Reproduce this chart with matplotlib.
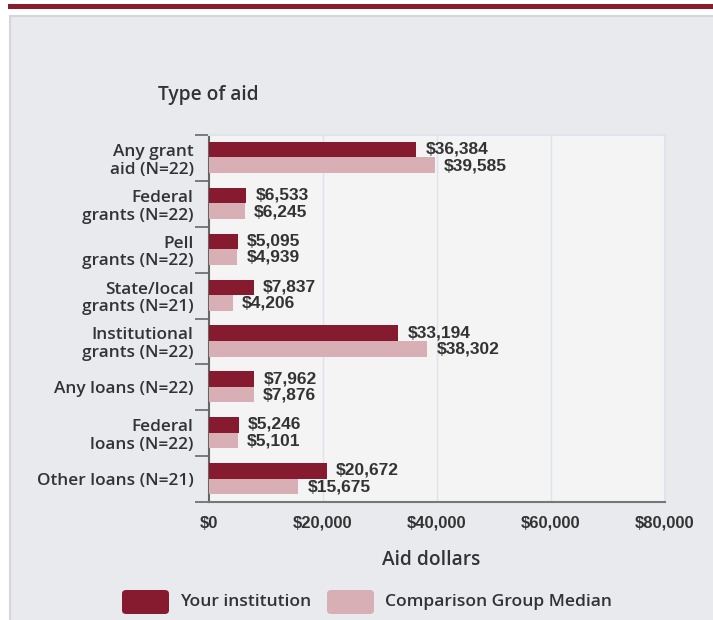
import matplotlib
matplotlib.use("Agg")
import matplotlib.pyplot as plt
from matplotlib.patches import Rectangle, FancyBboxPatch
import numpy as np

# data
categories = [
    "Any grant\naid (N=22)",
    "Federal\ngrants (N=22)",
    "Pell\ngrants (N=22)",
    "State/local\ngrants (N=21)",
    "Institutional\ngrants (N=22)",
    "Any loans (N=22)",
    "Federal\nloans (N=22)",
    "Other loans (N=21)",
]
your_institution = [36384, 6533, 5095, 7837, 33194, 7962, 5246, 20672]
comparison_median = [39585, 6245, 4939, 4206, 38302, 7876, 5101, 15675]
series_names = ["Your institution", "Comparison Group Median"]
x_ticks = [0, 20000, 40000, 60000, 80000]

DARK = "#861a2e"
LIGHT = "#d8afb5"
TEXT = "#333333"
LABEL_FONT = dict(family="Open Sans", fontweight="semibold", color=TEXT)
W, H = 713, 620

fig = plt.figure(figsize=(W / 100, H / 100), dpi=100)
fig.patch.set_facecolor("white")

# header band and panel
fig.patches.append(Rectangle((8 / W, 1 - 9 / H), 1, 5 / H, transform=fig.transFigure,
                             facecolor="#8a1c2e", edgecolor="none", zorder=-2))
fig.patches.append(Rectangle((10 / W, -0.01), 1, 1 - 16 / H + 0.01, transform=fig.transFigure,
                             facecolor="#e9eaee", edgecolor="#d4d5d8", linewidth=1.5, zorder=-2))

ax = fig.add_axes([209 / W, 1 - 502 / H, (665 - 209) / W, (502 - 135) / H])
ax.set_facecolor("#f4f4f4")

n = len(categories)
idx = np.arange(n)
bh = 0.34
ax.barh(idx + 0.32, your_institution, height=bh, color=DARK, zorder=3)
ax.barh(idx + 0.66, comparison_median, height=bh, color=LIGHT, zorder=3)

for i in range(n):
    ax.text(your_institution[i] + 1600, i + 0.31, "${:,}".format(your_institution[i]),
            va="center", ha="left", fontsize=12.5, fontweight="bold", color=TEXT,
            family="Liberation Sans", zorder=4)
    ax.text(comparison_median[i] + 1600, i + 0.67, "${:,}".format(comparison_median[i]),
            va="center", ha="left", fontsize=12.5, fontweight="bold", color=TEXT,
            family="Liberation Sans", zorder=4)

ax.set_xlim(0, 80000)
ax.set_ylim(n, 0)

for v in x_ticks[1:-1]:
    ax.axvline(v, color="#dde2ec", linewidth=1, zorder=1)

ax.set_xticks(x_ticks)
ax.set_xticklabels(["${:,}".format(v) for v in x_ticks], fontsize=12, fontweight="bold",
                   color=TEXT, family="Liberation Sans")
ax.tick_params(axis="x", length=0, pad=10)

ax.set_yticks(np.arange(n + 1))
ax.set_yticklabels([])
ax.tick_params(axis="y", length=10, width=1.2, color="#666666", direction="out")
ax.set_yticks(idx + 0.5, minor=True)
ax.set_yticklabels(categories, minor=True, fontsize=12.4, linespacing=1.15, **LABEL_FONT)
ax.tick_params(axis="y", which="minor", length=0, pad=11)

for s in ["top", "right"]:
    ax.spines[s].set_color("#dfe3ea")
    ax.spines[s].set_linewidth(1.5)
ax.spines["left"].set_color("#666666")
ax.spines["left"].set_linewidth(1.5)
ax.spines["bottom"].set_color("#777777")
ax.spines["bottom"].set_linewidth(1.5)

fig.text(431 / W, 1 - 560 / H, "Aid dollars", fontsize=13.8, va="center", ha="center",
         **LABEL_FONT)
fig.text(158 / W, 1 - 95 / H, "Type of aid", fontsize=13.8, va="center", ha="left",
         **LABEL_FONT)

# legend
legend_items = [(122, DARK, series_names[0]), (327, LIGHT, series_names[1])]
for x0, col, name in legend_items:
    fig.patches.append(FancyBboxPatch((x0 / W, 1 - 614 / H), 47 / W, 24 / H,
                                      boxstyle="round,pad=0,rounding_size=0.006",
                                      transform=fig.transFigure, facecolor=col,
                                      edgecolor="none"))
    fig.text((x0 + 58) / W, 1 - 602 / H, name, fontsize=12.6, va="center", ha="left",
             **LABEL_FONT)

fig.savefig("out.png", dpi=100)
